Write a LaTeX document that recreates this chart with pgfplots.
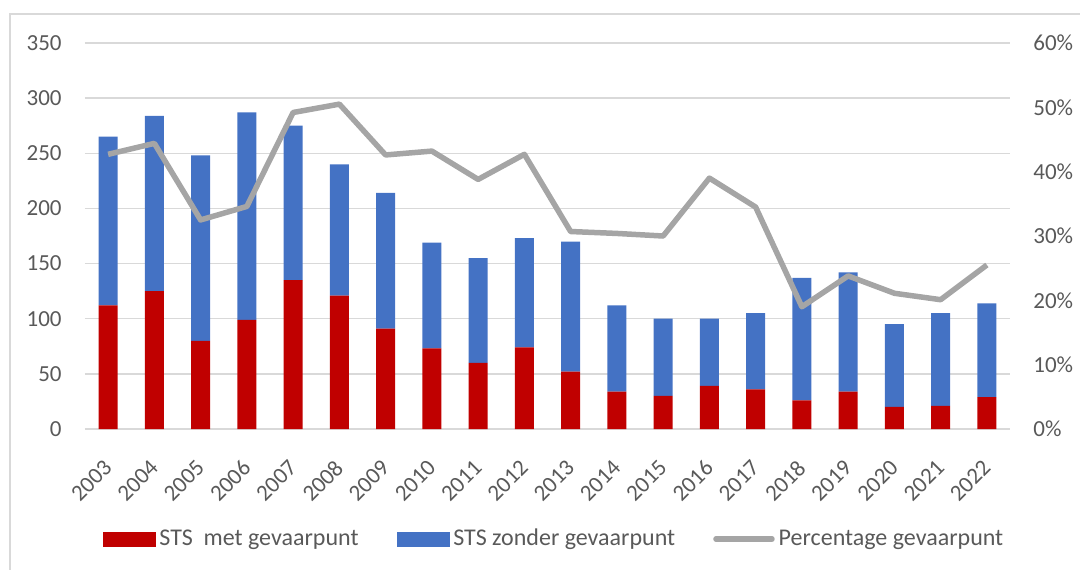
\documentclass[border=0pt]{standalone}
\usepackage{pgfplots}
\pgfplotsset{compat=1.18}
\usepackage{fontspec}
\setmainfont{Carlito}
\definecolor{cred}{HTML}{C00000}
\definecolor{cblue}{HTML}{4472C4}
\definecolor{cgray}{HTML}{A5A5A5}
\definecolor{cgrid}{HTML}{D9D9D9}
\definecolor{ctext}{HTML}{595959}
\begin{document}
\begin{tikzpicture}
\pgfplotsset{
  common/.style={
    scale only axis, width=462.5pt, height=193pt,
    xmin=-0.5, xmax=19.5,
    axis line style={draw=none}, major tick length=0pt,
    tick label style={font=\fontsize{11.5}{13}\selectfont, text=ctext, inner sep=0pt},
  }
}
\begin{axis}[common,
  ymin=0, ymax=350,
  ybar stacked, bar width=9.4pt,
  xtick={0,1,2,3,4,5,6,7,8,9,10,11,12,13,14,15,16,17,18,19},
  xticklabels={2003,2004,2005,2006,2007,2008,2009,2010,2011,2012,2013,2014,2015,2016,2017,2018,2019,2020,2021,2022},
  xticklabel style={rotate=45, anchor=east},
  xticklabel shift=17.5pt,
  ytick={0,50,100,150,200,250,300,350},
  yticklabels={0,50,100,150,200,250,300,350},
  yticklabel style={anchor=east},
  yticklabel shift=11.5pt,
  ymajorgrids, grid style={cgrid, line width=0.75pt},
]
\addplot[fill=cred, draw=none] coordinates {
(0,112) (1,125) (2,80) (3,99) (4,135) (5,121) (6,91) (7,73) (8,60) (9,74)
(10,52) (11,34) (12,30) (13,39) (14,36) (15,26) (16,34) (17,20) (18,21) (19,29)};
\addplot[fill=cblue, draw=none] coordinates {
(0,153) (1,159) (2,168) (3,188) (4,140) (5,119) (6,123) (7,96) (8,95) (9,99)
(10,118) (11,78) (12,70) (13,61) (14,69) (15,111) (16,108) (17,75) (18,84) (19,85)};
\end{axis}
\begin{axis}[common,
  ymin=0, ymax=0.6,
  hide x axis,
  yticklabel pos=right,
  ytick={0,0.1,0.2,0.3,0.4,0.5,0.6},
  yticklabels={0\%,10\%,20\%,30\%,40\%,50\%,60\%},
  yticklabel style={anchor=west},
  yticklabel shift=11.5pt,
  legend columns=3,
  legend cell align=left,
  legend style={at={(0.508,-0.285)}, anchor=center, draw=none, fill=none,
    font=\fontsize{12}{14}\selectfont, text=ctext,
    nodes={inner sep=2pt},
    /tikz/every even column/.append style={column sep=17pt}},
]
\addlegendimage{legend image code/.code={\fill[cred] (0pt,-3.5pt) rectangle (26pt,3.5pt);}}
\addlegendentry{STS\ \ met gevaarpunt}
\addlegendimage{legend image code/.code={\fill[cblue] (0pt,-3.5pt) rectangle (26pt,3.5pt);}}
\addlegendentry{STS zonder gevaarpunt}
\addplot[cgray, line width=2.75pt, line join=round,
  legend image code/.code={\draw[cgray, line width=2.75pt, line cap=round] (0pt,0pt) -- (28pt,0pt);}]
  coordinates {
(0,0.427) (1,0.444) (2,0.325) (3,0.346) (4,0.492) (5,0.505) (6,0.426) (7,0.432) (8,0.388) (9,0.427)
(10,0.307) (11,0.304) (12,0.300) (13,0.390) (14,0.345) (15,0.190) (16,0.238) (17,0.211) (18,0.201) (19,0.255)};
\addlegendentry{Percentage gevaarpunt}
\end{axis}
\draw[cgrid, line width=0.75pt] (-37.5pt,-80pt) -- (-37.5pt,207.5pt) -- (510pt,207.5pt);
\pgfresetboundingbox
\useasboundingbox (-42.5pt,-70pt) rectangle (497.5pt,214.5pt);
\end{tikzpicture}
\end{document}
